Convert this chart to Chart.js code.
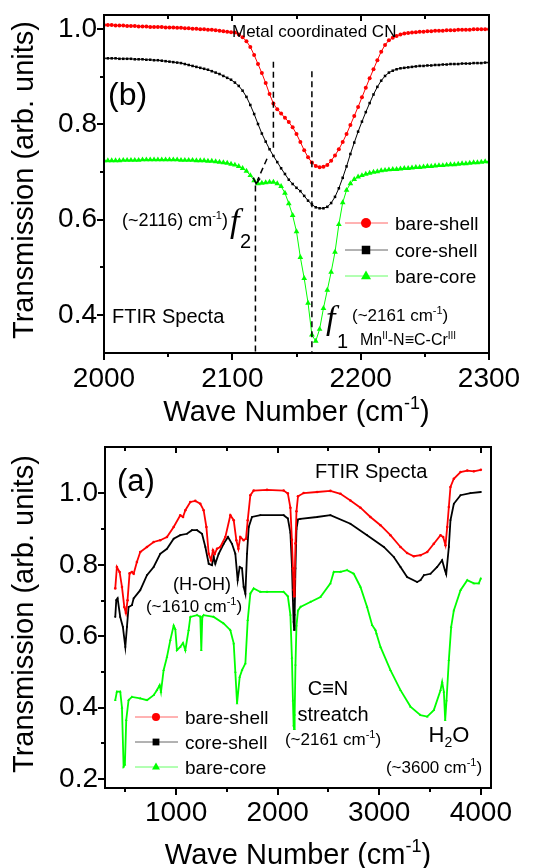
<!DOCTYPE html>
<html>
<head>
<meta charset="utf-8">
<script src="https://cdn.jsdelivr.net/npm/chart.js@4/dist/chart.umd.min.js"></script>
<style>
  html, body { margin: 0; padding: 0; background: #fff; }
  #wrap { position: relative; width: 549px; height: 868px; overflow: hidden; }
  canvas { position: absolute; left: 0; }
  #cnZoom { top: 0; }
  #fullSpec { top: 420px; }
</style>
</head>
<body>
<div id="wrap">
  <canvas id="cnZoom" width="549" height="440"></canvas>
  <canvas id="fullSpec" width="549" height="448"></canvas>
</div>
<script>
// ---------- (b) C≡N stretching region, 2000–2300 cm-1 ----------
const waveTop = [2000,2003,2006,2009,2012,2015,2018,2021,2024,2027,2030,2033,2036,2039,2042,2045,2048,2051,2054,2057,
  2060,2063,2066,2069,2072,2075,2078,2081,2084,2087,2090,2093,2096,2099,2102,2105,2108,2111,2114,2117,
  2120,2123,2126,2129,2132,2135,2138,2141,2144,2147,2150,2153,2156,2159,2162,2165,2168,2171,2174,2177,
  2180,2183,2186,2189,2192,2195,2198,2201,2204,2207,2210,2213,2216,2219,2222,2225,2228,2231,2234,2237,
  2240,2243,2246,2249,2252,2255,2258,2261,2264,2267,2270,2273,2276,2279,2282,2285,2288,2291,2294,2297,2300];

const bareShellTop = [1.009,1.009,1.009,1.008,1.008,1.008,1.007,1.007,1.007,1.006,
  1.006,1.006,1.005,1.005,1.005,1.005,1.004,1.004,1.004,1.003,
  1.003,1.002,1.002,1.001,1.001,1.000,1.000,0.999,0.999,0.998,
  0.997,0.996,0.995,0.994,0.993,0.989,0.983,0.975,0.963,0.946,
  0.927,0.908,0.887,0.864,0.844,0.832,0.823,0.814,0.805,0.794,
  0.780,0.763,0.746,0.731,0.720,0.713,0.710,0.711,0.715,0.724,
  0.735,0.748,0.763,0.780,0.799,0.818,0.837,0.857,0.877,0.897,
  0.916,0.935,0.953,0.967,0.977,0.982,0.986,0.989,0.991,0.992,
  0.993,0.994,0.995,0.995,0.996,0.996,0.997,0.997,0.997,0.998,
  0.998,0.998,0.999,0.999,0.999,0.999,1.000,1.000,1.000,1.000,1.000];

const coreShellTop = [0.939,0.939,0.939,0.939,0.938,0.938,0.938,0.938,0.937,0.937,
  0.937,0.936,0.936,0.935,0.935,0.934,0.933,0.932,0.931,0.930,
  0.929,0.927,0.925,0.923,0.921,0.919,0.917,0.915,0.912,0.909,
  0.906,0.902,0.898,0.894,0.888,0.881,0.871,0.858,0.841,0.822,
  0.801,0.781,0.764,0.748,0.734,0.721,0.708,0.696,0.684,0.675,
  0.667,0.660,0.650,0.640,0.632,0.626,0.624,0.624,0.627,0.635,
  0.648,0.666,0.688,0.712,0.738,0.762,0.785,0.806,0.826,0.845,
  0.863,0.879,0.892,0.902,0.909,0.913,0.916,0.918,0.919,0.920,
  0.921,0.922,0.923,0.923,0.924,0.924,0.925,0.925,0.926,0.926,
  0.927,0.927,0.927,0.928,0.928,0.928,0.929,0.929,0.929,0.930,0.930];

const bareCoreTop = [0.724,0.724,0.724,0.724,0.724,0.725,0.725,0.725,0.725,0.725,
  0.726,0.726,0.726,0.726,0.726,0.726,0.726,0.726,0.726,0.726,
  0.725,0.725,0.725,0.725,0.724,0.724,0.724,0.723,0.723,0.722,
  0.721,0.720,0.719,0.717,0.715,0.712,0.708,0.702,0.693,0.682,
  0.676,0.677,0.678,0.679,0.679,0.676,0.670,0.656,0.634,0.609,
  0.575,0.521,0.477,0.425,0.358,0.345,0.370,0.414,0.452,0.490,
  0.532,0.590,0.636,0.662,0.676,0.685,0.690,0.693,0.696,0.698,
  0.700,0.701,0.703,0.704,0.705,0.706,0.706,0.707,0.708,0.708,
  0.709,0.710,0.710,0.711,0.712,0.712,0.713,0.714,0.714,0.715,
  0.716,0.716,0.717,0.718,0.718,0.719,0.720,0.720,0.721,0.722,0.722];

const xTicksTop = [2000, 2100, 2200, 2300];
const xMinorTop = [2050, 2150, 2250];
const yTicksTop = [0.4, 0.6, 0.8, 1.0];
const yMinorTop = [0.5, 0.7, 0.9];

// ---------- (a) full FTIR spectra, 400–4000 cm-1 ----------
const waveBareShell = [401,417,444,467,490,506,522,542,565,582,614,647,713,779,844,910,976,1041,1068,1091,
  1140,1189,1238,1271,1298,1321,1344,1363,1380,1403,1435,1485,1534,1567,1593,1613,1632,1665,1688,1705,
  1731,1764,1895,2059,2100,2125,2140,2150,2158,2163,2168,2175,2185,2200,2256,2388,2519,2618,2716,2815,
  2913,3012,3110,3209,3274,3340,3406,3472,3537,3603,3629,3652,3669,3685,3701,3734,3800,3866,3931,4000];
const transBareShell = [0.734,0.794,0.780,0.738,0.682,0.665,0.701,0.776,0.780,0.775,0.808,0.836,0.850,0.864,0.869,0.878,0.906,0.939,0.934,0.953,
  0.976,0.979,0.971,0.953,0.906,0.831,0.813,0.841,0.830,0.845,0.850,0.878,0.939,0.925,0.869,0.845,0.878,0.869,0.873,0.925,
  0.995,1.008,1.010,1.008,1.000,0.960,0.870,0.790,0.730,0.712,0.760,0.860,0.950,0.992,1.001,1.004,1.007,0.999,0.980,0.960,
  0.934,0.911,0.883,0.850,0.833,0.824,0.827,0.836,0.859,0.883,0.878,0.855,0.906,0.962,1.018,1.041,1.060,1.064,1.062,1.066];

const waveCoreShell = [401,411,424,450,476,500,516,532,565,582,647,713,779,844,910,976,1041,1107,1156,1206,
  1255,1288,1321,1353,1370,1386,1419,1468,1511,1550,1583,1606,1626,1649,1665,1682,1698,1715,1747,1830,
  2059,2100,2125,2140,2150,2157,2162,2167,2175,2185,2200,2224,2388,2519,2716,2880,3045,3143,3209,3274,
  3373,3406,3439,3504,3570,3619,3646,3659,3685,3701,3734,3800,3898,4000];
const transCoreShell = [0.654,0.701,0.706,0.654,0.626,0.570,0.626,0.682,0.687,0.706,0.729,0.771,0.794,0.831,0.845,0.873,0.883,0.887,0.897,0.897,
  0.887,0.850,0.803,0.799,0.822,0.803,0.831,0.859,0.878,0.859,0.831,0.757,0.794,0.790,0.738,0.719,0.831,0.906,0.934,0.939,
  0.939,0.930,0.890,0.800,0.700,0.640,0.618,0.660,0.790,0.900,0.927,0.929,0.934,0.939,0.915,0.883,0.850,0.822,0.794,0.766,
  0.752,0.757,0.771,0.775,0.794,0.813,0.785,0.774,0.850,0.925,0.971,0.995,1.001,1.004];

const waveBareCore = [401,417,450,467,483,496,509,532,565,647,713,779,811,838,851,877,910,943,976,992,
  1008,1041,1068,1091,1123,1140,1206,1238,1248,1258,1271,1370,1468,1534,1567,1583,1600,1626,1649,1682,
  1705,1731,1764,1830,1895,2059,2100,2125,2140,2150,2157,2162,2167,2175,2185,2200,2224,2322,2421,2519,
  2552,2618,2683,2749,2815,2880,2930,2963,2972,3012,3110,3209,3307,3406,3472,3537,3603,3619,3636,3649,
  3662,3685,3708,3734,3800,3866,3931,3980,4000];
const transBareCore = [0.421,0.445,0.445,0.400,0.235,0.240,0.365,0.421,0.430,0.426,0.421,0.435,0.449,0.463,0.444,0.505,0.542,0.589,0.630,0.620,
  0.561,0.570,0.581,0.561,0.617,0.654,0.659,0.655,0.561,0.655,0.659,0.654,0.636,0.617,0.580,0.500,0.412,0.486,0.505,0.524,
  0.645,0.720,0.734,0.724,0.724,0.724,0.712,0.660,0.540,0.420,0.350,0.340,0.380,0.520,0.630,0.672,0.682,0.696,0.710,0.748,
  0.780,0.780,0.785,0.775,0.738,0.682,0.631,0.617,0.608,0.570,0.505,0.449,0.403,0.379,0.375,0.393,0.449,0.472,0.444,0.365,
  0.420,0.533,0.626,0.672,0.729,0.757,0.748,0.748,0.762];

const xTicksFull = [1000, 2000, 3000, 4000];
const xMinorFull = [500, 1500, 2500, 3500];
const yTicksFull = [0.2, 0.4, 0.6, 0.8, 1.0];
const yMinorFull = [0.3, 0.5, 0.7, 0.9];

const seriesNames = ['bare-shell', 'core-shell', 'bare-core'];
const seriesColors = ['#ff0000', '#000000', '#00ff00'];
const seriesMarkers = ['circle', 'rect', 'triangle'];

const SANS = "'Liberation Sans', Arial, sans-serif";
const SERIF = "'Liberation Serif', 'Times New Roman', serif";

function toPoints(xs, ys) { return xs.map((x, i) => ({ x: x, y: ys[i] })); }

// text with super/subscript runs: parts = [[text, 0|1|2]] (0 normal, 1 sup, 2 sub)
function richText(ctx, x, y, parts, size, align, family) {
  family = family || SANS;
  const fonts = parts.map(p => (p[1] ? Math.round(size * 0.62) : size) + 'px ' + family);
  let total = 0;
  parts.forEach((p, i) => { ctx.font = fonts[i]; total += ctx.measureText(p[0]).width; });
  let cx = align === 'center' ? x - total / 2 : (align === 'right' ? x - total : x);
  ctx.textAlign = 'left';
  ctx.textBaseline = 'alphabetic';
  parts.forEach((p, i) => {
    ctx.font = fonts[i];
    const dy = p[1] === 1 ? -size * 0.4 : (p[1] === 2 ? size * 0.22 : 0);
    ctx.fillText(p[0], cx, y + dy);
    cx += ctx.measureText(p[0]).width;
  });
}

function marker(ctx, style, x, y, r, color) {
  ctx.fillStyle = color;
  ctx.beginPath();
  if (style === 'circle') {
    ctx.arc(x, y, r, 0, Math.PI * 2);
  } else if (style === 'rect') {
    ctx.rect(x - r * 0.85, y - r * 0.85, r * 1.7, r * 1.7);
  } else {
    ctx.moveTo(x, y - r * 1.1);
    ctx.lineTo(x + r, y + r * 0.65);
    ctx.lineTo(x - r, y + r * 0.65);
    ctx.closePath();
  }
  ctx.fill();
}

function drawFrame(chart, xMajor, xMinor, yMajor, yMinor) {
  const ctx = chart.ctx, a = chart.chartArea, sx = chart.scales.x, sy = chart.scales.y;
  ctx.save();
  ctx.strokeStyle = '#000';
  ctx.lineWidth = 2;
  ctx.strokeRect(a.left, a.top, a.right - a.left, a.bottom - a.top);
  ctx.beginPath();
  xMajor.forEach(v => {
    const px = Math.round(sx.getPixelForValue(v));
    ctx.moveTo(px, a.bottom); ctx.lineTo(px, a.bottom + 7);
    ctx.moveTo(px, a.top); ctx.lineTo(px, a.top + 6);
  });
  xMinor.forEach(v => {
    const px = Math.round(sx.getPixelForValue(v));
    ctx.moveTo(px, a.bottom); ctx.lineTo(px, a.bottom + 4);
    ctx.moveTo(px, a.top); ctx.lineTo(px, a.top + 4);
  });
  yMajor.forEach(v => {
    const py = Math.round(sy.getPixelForValue(v));
    ctx.moveTo(a.left - 7, py); ctx.lineTo(a.left, py);
  });
  yMinor.forEach(v => {
    const py = Math.round(sy.getPixelForValue(v));
    ctx.moveTo(a.left - 4, py); ctx.lineTo(a.left, py);
  });
  ctx.stroke();
  ctx.restore();
}

function drawAxisTitles(chart, yCenter, xBaseline) {
  const ctx = chart.ctx, a = chart.chartArea;
  ctx.save();
  ctx.fillStyle = '#000';
  ctx.translate(33, yCenter);
  ctx.rotate(-Math.PI / 2);
  ctx.font = '29px ' + SANS;
  ctx.textAlign = 'center';
  ctx.textBaseline = 'alphabetic';
  ctx.fillText('Transmission (arb. units)', 0, 0);
  ctx.restore();
  ctx.save();
  ctx.fillStyle = '#000';
  richText(ctx, (a.left + a.right) / 2, xBaseline, [['Wave Number (cm', 0], ['-1', 1], [')', 0]], 29, 'center');
  ctx.restore();
}

function drawLegend(ctx, x0, ys, size) {
  ctx.save();
  for (let i = 0; i < 3; i++) {
    const y = ys[i];
    ctx.strokeStyle = seriesColors[i];
    ctx.globalAlpha = 0.6;
    ctx.lineWidth = 1;
    ctx.beginPath(); ctx.moveTo(x0, y); ctx.lineTo(x0 + 43, y); ctx.stroke();
    ctx.globalAlpha = 1;
    marker(ctx, seriesMarkers[i], x0 + 21, y, size === 'big' ? 5 : 4, seriesColors[i]);
    ctx.fillStyle = '#000';
    ctx.font = '19px ' + SANS;
    ctx.textAlign = 'left';
    ctx.textBaseline = 'alphabetic';
    ctx.fillText(seriesNames[i], x0 + 50, y + 7);
  }
  ctx.restore();
}

function dashed(ctx, sx, sy, x1, y1, x2, y2) {
  ctx.beginPath();
  ctx.moveTo(sx.getPixelForValue(x1), sy.getPixelForValue(y1));
  ctx.lineTo(sx.getPixelForValue(x2), sy.getPixelForValue(y2));
  ctx.stroke();
}

const cnDecor = {
  id: 'cnDecor',
  afterDatasetsDraw(chart) {
    const ctx = chart.ctx, sx = chart.scales.x, sy = chart.scales.y;
    drawFrame(chart, xTicksTop, xMinorTop, yTicksTop, yMinorTop);
    ctx.save();
    ctx.strokeStyle = '#000';
    ctx.lineWidth = 1.5;
    ctx.setLineDash([6, 4]);
    dashed(ctx, sx, sy, 2162, 0.912, 2162, 0.32);   // f1 position
    dashed(ctx, sx, sy, 2118, 0.672, 2118, 0.32);   // f2 position
    dashed(ctx, sx, sy, 2132, 0.932, 2132, 0.748);  // shoulder of the metal-coordinated band
    dashed(ctx, sx, sy, 2127, 0.728, 2119.5, 0.682);
    ctx.setLineDash([]);
    // arrow tip on the f2 shoulder
    const tx = sx.getPixelForValue(2118.5), ty = sy.getPixelForValue(0.676);
    ctx.beginPath();
    ctx.moveTo(tx - 3, ty - 6); ctx.lineTo(tx, ty); ctx.lineTo(tx + 4, ty - 5);
    ctx.stroke();
    ctx.restore();

    ctx.save();
    ctx.fillStyle = '#000';
    richText(ctx, 232, 37, [['Metal coordinated CN', 0]], 17, 'left');
    richText(ctx, 108, 105, [['(b)', 0]], 32, 'left');
    richText(ctx, 122, 226, [['(~2116) cm', 0], ['-1', 1], [')', 0]], 18, 'left');
    ctx.font = 'italic 34px ' + SERIF; ctx.textAlign = 'left'; ctx.textBaseline = 'alphabetic';
    ctx.fillText('f', 230, 232);
    ctx.fillText('f', 326, 329);
    ctx.font = '20px ' + SANS;
    ctx.fillText('2', 240, 248);
    ctx.fillText('1', 337, 348);
    richText(ctx, 352, 321, [['(~2161 cm', 0], ['-1', 1], [')', 0]], 17, 'left');
    richText(ctx, 360, 345, [['Mn', 0], ['II', 1], ['-N\u2261C-Cr', 0], ['III', 1]], 16, 'left');
    richText(ctx, 112, 323, [['FTIR Specta', 0]], 20, 'left');
    ctx.restore();

    drawLegend(ctx, 345, [223, 250, 276], 'big');
    drawAxisTitles(chart, 180, 421);
  }
};

const fullDecor = {
  id: 'fullDecor',
  afterDatasetsDraw(chart) {
    const ctx = chart.ctx;
    drawFrame(chart, xTicksFull, xMinorFull, yTicksFull, yMinorFull);
    ctx.save();
    ctx.fillStyle = '#000';
    const o = -420; // page offset of this canvas
    richText(ctx, 117, 491 + o, [['(a)', 0]], 31, 'left');
    richText(ctx, 315, 478 + o, [['FTIR Specta', 0]], 20, 'left');
    richText(ctx, 202, 590 + o, [['(H-OH)', 0]], 18, 'center');
    richText(ctx, 194, 612 + o, [['(~1610 cm', 0], ['-1', 1], [')', 0]], 17, 'center');
    richText(ctx, 328, 695 + o, [['C\u2261N', 0]], 20, 'center');
    richText(ctx, 333, 721 + o, [['streatch', 0]], 20, 'center');
    richText(ctx, 333, 745 + o, [['(~2161 cm', 0], ['-1', 1], [')', 0]], 17, 'center');
    richText(ctx, 449, 742 + o, [['H', 0], ['2', 2], ['O', 0]], 22, 'center');
    richText(ctx, 434, 773 + o, [['(~3600 cm', 0], ['-1', 1], [')', 0]], 17, 'center');
    ctx.restore();
    drawLegend(ctx, 135, [717 + o, 742 + o, 767 + o], 'small');
    drawAxisTitles(chart, 614 + o, 864 + o);
  }
};

function makeDatasets(sets, radii, width) {
  return sets.map((pts, i) => ({
    label: seriesNames[i],
    data: pts,
    borderColor: seriesColors[i],
    backgroundColor: seriesColors[i],
    pointBackgroundColor: seriesColors[i],
    pointBorderColor: seriesColors[i],
    pointBorderWidth: 0,
    borderWidth: width,
    pointStyle: seriesMarkers[i],
    pointRadius: radii[i],
    tension: 0,
    fill: false
  }));
}

function axisOptions(min, max, ticks, fmt, afterFit, pad) {
  return {
    type: 'linear', min: min, max: max,
    grid: { display: false, drawTicks: false },
    border: { display: false },
    ticks: { color: '#000', font: { family: SANS, size: 28 }, padding: pad, autoSkip: false,
             maxRotation: 0, minRotation: 0, callback: fmt },
    afterBuildTicks: s => { s.ticks = ticks.map(v => ({ value: v })); },
    afterFit: afterFit
  };
}

Chart.defaults.animation = false;

new Chart(document.getElementById('cnZoom'), {
  type: 'line',
  data: {
    datasets: makeDatasets([
      toPoints(waveTop, bareShellTop),
      toPoints(waveTop, coreShellTop),
      toPoints(waveTop, bareCoreTop)
    ], [2, 1.8, 3.3], 1)
  },
  options: {
    responsive: false, animation: false, devicePixelRatio: 1,
    layout: { padding: { top: 15, right: 60, left: 0, bottom: 0 } },
    plugins: { legend: { display: false }, tooltip: { enabled: false } },
    scales: {
      x: axisOptions(2000, 2300, xTicksTop, v => String(v),
        s => { s.height = 87; s.paddingLeft = 0; s.paddingRight = 0; }, 9),
      y: axisOptions(0.32, 1.03, yTicksTop, v => v.toFixed(1),
        s => { s.width = 104; s.paddingTop = 0; s.paddingBottom = 0; }, 7)
    }
  },
  plugins: [cnDecor]
});

new Chart(document.getElementById('fullSpec'), {
  type: 'line',
  data: {
    datasets: makeDatasets([
      toPoints(waveBareShell, transBareShell),
      toPoints(waveCoreShell, transCoreShell),
      toPoints(waveBareCore, transBareCore)
    ], [1.3, 1.2, 1.6], 1.8)
  },
  options: {
    responsive: false, animation: false, devicePixelRatio: 1,
    layout: { padding: { top: 27, right: 58, left: 0, bottom: 0 } },
    plugins: { legend: { display: false }, tooltip: { enabled: false } },
    scales: {
      x: axisOptions(300, 4100, xTicksFull, v => String(v),
        s => { s.height = 80; s.paddingLeft = 0; s.paddingRight = 0; }, 8),
      y: axisOptions(0.175, 1.13, yTicksFull, v => v.toFixed(1),
        s => { s.width = 105; s.paddingTop = 0; s.paddingBottom = 0; }, 7)
    }
  },
  plugins: [fullDecor]
});
</script>
</body>
</html>
